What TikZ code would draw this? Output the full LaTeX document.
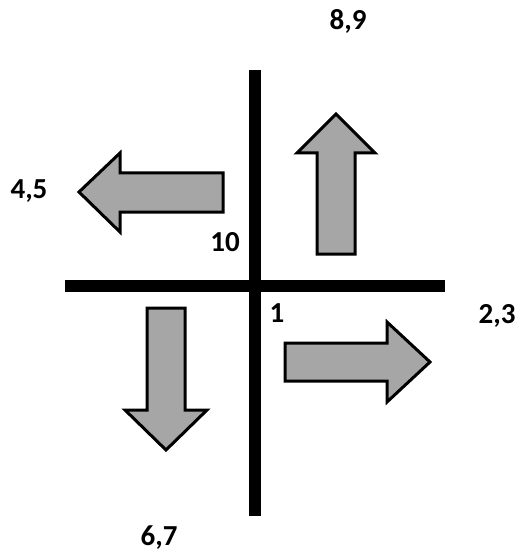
\documentclass[tikz,border=0pt]{standalone}
\usepackage{fontspec}
\setmainfont{Carlito}
\usetikzlibrary{positioning}
\definecolor{grisfleche}{RGB}{166,166,166}

\begin{document}
\begin{tikzpicture}[x=1pt, y=-1pt, font=\fontsize{29}{33}\selectfont\bfseries,
	axe/.style={line width=12pt},
	fleche/.style={draw=black, fill=grisfleche, line width=3pt}]
	\useasboundingbox (0,0) rectangle (519,553);
	% les deux axes
	\coordinate (haut) at (255,70);
	\coordinate (bas) at (255,516);
	\coordinate (gauche) at (65,286);
	\coordinate (droite) at (445,286);
	\draw[axe] (haut) -- (bas);
	\draw[axe] (gauche) -- (droite);
	% fleches
	\draw[fleche] (317,254) -- (317,153) -- (297,153) -- (336,114) -- (375,153) -- (355,153) -- (355,254) -- cycle;
	\draw[fleche] (223,173) -- (120,173) -- (120,153) -- (79,192) -- (120,232) -- (120,212) -- (223,212) -- cycle;
	\draw[fleche] (285,343) -- (387,343) -- (387,322) -- (430,362) -- (387,402) -- (387,381) -- (285,381) -- cycle;
	\draw[fleche] (147,308) -- (147,410) -- (125,410) -- (166,450) -- (207,410) -- (185,410) -- (185,308) -- cycle;
	% etiquettes
	\node[anchor=base] (n89) at (348,30) {8,9};
	\node[anchor=base] (n45) at (29,198) {4,5};
	\node[anchor=base] (n10) at (225,251) {10};
	\node[anchor=base] (n1) at (277,322) {1};
	\node[anchor=base] (n23) at (497,323) {2,3};
	\node[anchor=base] (n67) at (159,545) {6,7};
\end{tikzpicture}
\end{document}
